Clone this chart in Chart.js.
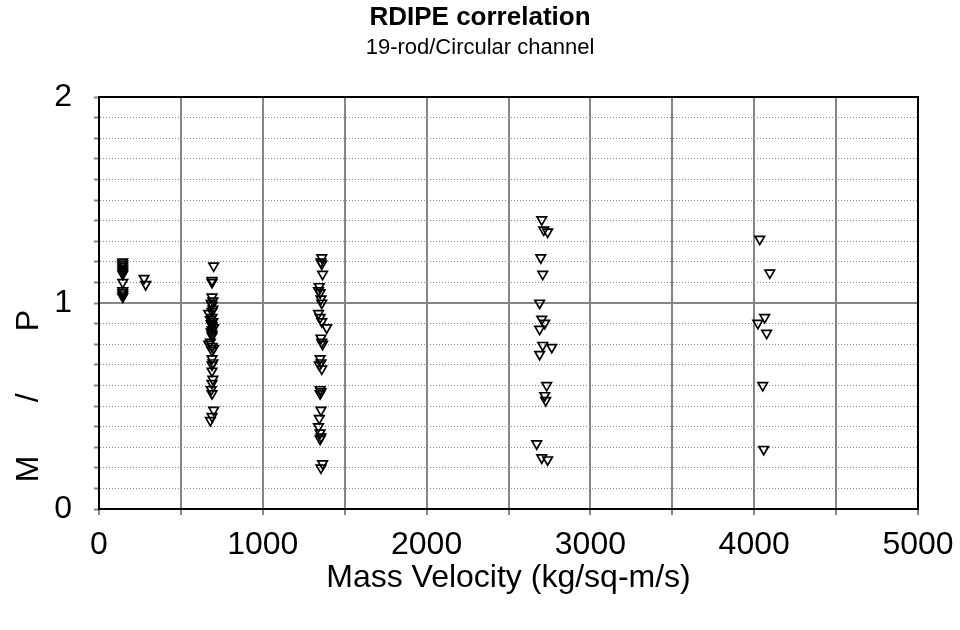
<!DOCTYPE html>
<html><head><meta charset="utf-8">
<script src="https://cdn.jsdelivr.net/npm/chart.js@4.4.1/dist/chart.umd.min.js"></script>
<style>html,body{margin:0;padding:0;background:#fff}</style>
</head><body>
<canvas id="c" width="960" height="630"></canvas>
<script>
const titleText = 'RDIPE correlation';
const subtitleText = '19-rod/Circular channel';
const xTitle = 'Mass Velocity (kg/sq-m/s)';
const yTitle = '   M      /       P';
const xTickLabels = ['0', '1000', '2000', '3000', '4000', '5000'];
const yTickLabels = ['0', '1', '2'];

// clusters of measurements: mass velocity (x) and M/P ratio (y)
const c1X = [145,145,145,145,145,145,145,145,145,145,145,145];
const c1Y = [1.20,1.19,1.18,1.17,1.16,1.15,1.14,1.10,1.06,1.05,1.04,1.03];

const c2X = [275,285];
const c2Y = [1.12,1.09];

const c3X = [700,690,690,690,695,685,690,695,690,670,690,680,695,685,690,700,690,685,690,690,680,670,690,700,690,690,695,690,690,695,690,685,690,700,690,680];
const c3Y = [1.18,1.11,1.10,1.03,1.01,1.00,0.99,0.97,0.96,0.95,0.93,0.92,0.91,0.90,0.89,0.88,0.87,0.86,0.85,0.84,0.81,0.80,0.79,0.78,0.77,0.73,0.71,0.70,0.67,0.63,0.61,0.58,0.56,0.48,0.45,0.43];

const c4X = [1360,1355,1360,1365,1345,1340,1350,1355,1360,1340,1350,1360,1390,1355,1360,1365,1350,1355,1345,1360,1350,1355,1350,1355,1345,1340,1350,1355,1350,1365,1355];
const c4Y = [1.22,1.20,1.19,1.14,1.08,1.06,1.05,1.02,1.00,0.95,0.93,0.91,0.88,0.83,0.81,0.80,0.73,0.71,0.70,0.68,0.58,0.57,0.56,0.48,0.44,0.40,0.37,0.35,0.34,0.22,0.20];

const c5X = [2703,2715,2739,2697,2709,2690,2703,2721,2690,2709,2764,2690,2733,2721,2727,2672,2703,2739];
const c5Y = [1.405,1.355,1.345,1.22,1.14,1.00,0.922,0.902,0.873,0.795,0.785,0.751,0.60,0.551,0.527,0.317,0.249,0.239];

const c6X = [4034,4095,4064,4022,4076,4052,4058];
const c6Y = [1.31,1.146,0.93,0.902,0.854,0.60,0.29];

const allX = [].concat(c1X, c2X, c3X, c4X, c5X, c6X);
const allY = [].concat(c1Y, c2Y, c3Y, c4Y, c5Y, c6Y);
const points = allX.map((x, i) => ({x: x, y: allY[i]}));

const FONT = 'Liberation Sans, Arial, sans-serif';
const GRAY = '#858585';
const isInt = v => Math.abs(v - Math.round(v)) < 1e-6;

new Chart(document.getElementById('c'), {
  type: 'scatter',
  data: {
    datasets: [{
      data: points,
      pointStyle: 'triangle',
      rotation: 180,
      pointRadius: 5.5,
      pointHoverRadius: 5.5,
      borderColor: '#000',
      borderWidth: 1.7,
      backgroundColor: 'rgba(0,0,0,0)'
    }]
  },
  options: {
    responsive: false,
    animation: false,
    events: [],
    layout: {padding: {left: 0, right: 0, top: 0, bottom: 0}},
    plugins: {
      legend: {display: false},
      tooltip: {enabled: false},
      title: {
        display: true, text: titleText, color: '#000',
        font: {family: FONT, size: 26, weight: 'bold'},
        padding: {top: 2, bottom: 2}
      },
      subtitle: {
        display: true, text: subtitleText, color: '#000',
        font: {family: FONT, size: 22},
        padding: {top: 0, bottom: 35.4}
      }
    },
    scales: {
      x: {
        type: 'linear', min: 0, max: 5000,
        afterFit: s => { s.height = 121; s.paddingLeft = 0; s.paddingRight = 0; },
        ticks: {
          stepSize: 500, autoSkip: false, maxRotation: 0,
          color: '#000', font: {family: FONT, size: 32}, padding: 11,
          callback: v => xTickLabels.includes(String(v)) ? String(v) : ''
        },
        grid: {
          color: c => (c.tick && (c.tick.value === 0 || c.tick.value === 5000)) ? 'rgba(0,0,0,0)' : GRAY,
          lineWidth: 2, tickLength: 6, tickColor: GRAY, tickWidth: 2
        },
        border: {display: true, color: '#000', width: 2},
        title: {
          display: true, text: xTitle, color: '#000',
          font: {family: FONT, size: 32}, padding: {top: 0, bottom: 32.8}
        }
      },
      y: {
        type: 'linear', position: 'left', min: 0, max: 2,
        afterFit: s => { s.width = 99; },
        ticks: {
          stepSize: 0.1, autoSkip: false,
          color: '#000', font: {family: FONT, size: 32}, padding: 22,
          callback: v => isInt(v) && yTickLabels.includes(String(Math.round(v))) ? String(Math.round(v)) : ''
        },
        grid: {
          color: c => (c.tick && isInt(c.tick.value)) ? 'rgba(0,0,0,0)' : GRAY,
          lineWidth: 1, tickLength: 5, tickColor: GRAY, tickWidth: 2
        },
        border: {display: true, color: '#000', width: 2, dash: [1, 2]},
        title: {
          display: true, text: yTitle, align: 'start', color: '#000',
          font: {family: FONT, size: 32}, padding: {top: 10, bottom: 0}
        }
      },
      yR: {
        type: 'linear', position: 'right', min: 0, max: 2,
        afterFit: s => { s.width = 42; },
        ticks: {display: false, stepSize: 1},
        grid: {
          color: c => {
            const v = c.tick ? c.tick.value : 0;
            if (v === 2) return '#000';
            if (v === 1) return GRAY;
            return 'rgba(0,0,0,0)';
          },
          lineWidth: 2, drawTicks: false
        },
        border: {display: true, color: '#000', width: 2}
      }
    }
  }
});
</script>
</body></html>
